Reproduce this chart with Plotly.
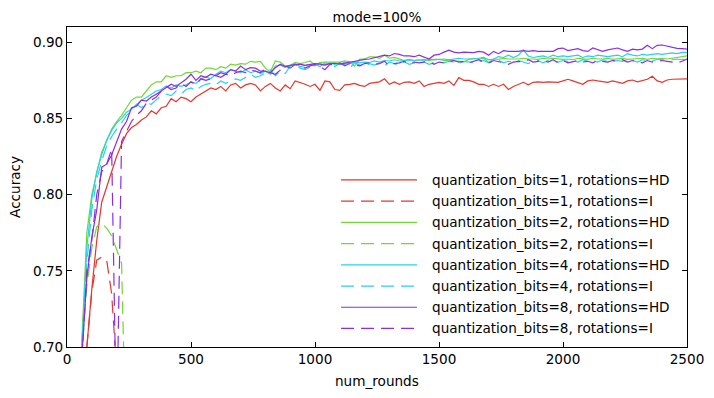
import plotly.graph_objects as go

# evaluation rounds (every 20 rounds)
ROUNDS = list(range(20, 2520, 20))

# quantization_bits=1, rotations=HD
acc_q1_hd = [
    0.30, 0.52, 0.66, 0.70, 0.738, 0.770, 0.795, 0.805, 0.815, 0.825,
    0.833, 0.840, 0.844, 0.846, 0.849, 0.851, 0.855, 0.853, 0.857, 0.858,
    0.863, 0.861, 0.864, 0.863, 0.861, 0.864, 0.866, 0.868, 0.870, 0.869,
    0.871, 0.868, 0.872, 0.873, 0.870, 0.872, 0.873, 0.872, 0.868, 0.871,
    0.873, 0.870, 0.868, 0.872, 0.8695, 0.8746, 0.8737, 0.8724, 0.871, 0.8724,
    0.8684, 0.8746, 0.874, 0.869, 0.8684, 0.872, 0.8724, 0.873, 0.8717, 0.871,
    0.873, 0.8737, 0.874, 0.876, 0.8724, 0.874, 0.8724, 0.8737, 0.874, 0.873,
    0.8746, 0.871, 0.8724, 0.873, 0.8737, 0.873, 0.8746, 0.8717, 0.8768, 0.875,
    0.875, 0.874, 0.8724, 0.8724, 0.871, 0.8724, 0.871, 0.8724, 0.869, 0.871,
    0.8724, 0.8737, 0.872, 0.8737, 0.874, 0.8737, 0.874, 0.874, 0.8737, 0.8746,
    0.8757, 0.8746, 0.8737, 0.8724, 0.8746, 0.8752, 0.8746, 0.874, 0.8737, 0.8746,
    0.8737, 0.873, 0.8746, 0.8752, 0.874, 0.8748, 0.8757, 0.8777, 0.8746, 0.8737,
    0.8752, 0.8757, 0.8757, 0.8757, 0.876,
]
# quantization_bits=1, rotations=I (diverges)
acc_q1_i = [0.28, 0.48, 0.62, 0.70, 0.736, 0.757, 0.759, 0.757, 0.735, 0.685, 0.40]

# quantization_bits=2, rotations=HD
acc_q2_hd = [
    0.35, 0.58, 0.705, 0.775, 0.800, 0.815, 0.828, 0.835, 0.843, 0.848,
    0.852, 0.857, 0.862, 0.864, 0.864, 0.868, 0.872, 0.874, 0.874, 0.878,
    0.877, 0.878, 0.878, 0.880, 0.880, 0.881, 0.880, 0.883, 0.883, 0.882,
    0.884, 0.883, 0.8856, 0.885, 0.886, 0.8856, 0.8875, 0.887, 0.8875, 0.883,
    0.8806, 0.8877, 0.887, 0.8844, 0.8848, 0.8867, 0.886, 0.8867, 0.8877, 0.885,
    0.8867, 0.887, 0.887, 0.8867, 0.887, 0.8877, 0.8872, 0.8844, 0.889, 0.889,
    0.8904, 0.8904, 0.8895, 0.8915, 0.8895, 0.890, 0.8888, 0.888, 0.8888, 0.888,
    0.8882, 0.8888, 0.888, 0.8888, 0.8888, 0.888, 0.8882, 0.8877, 0.8877, 0.887,
    0.8888, 0.8895, 0.889, 0.8895, 0.8867, 0.889, 0.8888, 0.8895, 0.889, 0.8888,
    0.889, 0.8895, 0.889, 0.889, 0.8888, 0.8895, 0.889, 0.8895, 0.889, 0.8888,
    0.889, 0.8885, 0.8895, 0.889, 0.8888, 0.8895, 0.889, 0.889, 0.8895, 0.8888,
    0.889, 0.8895, 0.8888, 0.889, 0.889, 0.8895, 0.8888, 0.8895, 0.889, 0.8895,
    0.889, 0.8895, 0.890, 0.8905, 0.891,
]
# quantization_bits=2, rotations=I (diverges)
acc_q2_i = [0.30, 0.52, 0.70, 0.74, 0.765, 0.779, 0.781, 0.778, 0.773, 0.764, 0.755, 0.62, 0.35]

# quantization_bits=4, rotations=HD
acc_q4_hd = [
    0.33, 0.56, 0.70, 0.765, 0.797, 0.815, 0.826, 0.836, 0.842, 0.847,
    0.850, 0.854, 0.856, 0.859, 0.862, 0.8637, 0.866, 0.868, 0.869, 0.8713,
    0.870, 0.872, 0.871, 0.872, 0.874, 0.873, 0.876, 0.8773, 0.876, 0.879,
    0.881, 0.880, 0.882, 0.881, 0.880, 0.882, 0.880, 0.881, 0.8795, 0.881,
    0.879, 0.8844, 0.885, 0.8835, 0.885, 0.886, 0.884, 0.885, 0.8855, 0.8845,
    0.886, 0.885, 0.8865, 0.8855, 0.886, 0.8865, 0.886, 0.887, 0.8865, 0.887,
    0.8867, 0.8877, 0.887, 0.888, 0.8877, 0.8885, 0.8877, 0.888, 0.8884, 0.888,
    0.8885, 0.8877, 0.889, 0.8884, 0.8888, 0.889, 0.8884, 0.889, 0.8895, 0.889,
    0.8888, 0.889, 0.8895, 0.890, 0.8884, 0.889, 0.8905, 0.890, 0.8915, 0.890,
    0.8915, 0.895, 0.891, 0.890, 0.8905, 0.891, 0.890, 0.8915, 0.8905, 0.891,
    0.8905, 0.891, 0.8915, 0.890, 0.891, 0.8905, 0.8915, 0.891, 0.8905, 0.891,
    0.8915, 0.8905, 0.8925, 0.8915, 0.891, 0.892, 0.8915, 0.892, 0.8925, 0.892,
    0.8925, 0.893, 0.8925, 0.8934, 0.8934,
]
# quantization_bits=4, rotations=I
acc_q4_i = [
    0.30, 0.53, 0.69, 0.755, 0.79, 0.81, 0.822, 0.832, 0.838, 0.843,
    0.847, 0.852, 0.855, 0.8593, 0.857, 0.860, 0.8593, 0.862, 0.865, 0.866,
    0.865, 0.868, 0.866, 0.869, 0.870, 0.868, 0.871, 0.8724, 0.873, 0.872,
    0.8746, 0.873, 0.8746, 0.876, 0.875, 0.877, 0.879, 0.877, 0.878, 0.880,
    0.882, 0.878, 0.881, 0.8795, 0.8845, 0.886, 0.883, 0.882, 0.884, 0.8855,
    0.884, 0.8865, 0.885, 0.884, 0.886, 0.8855, 0.883, 0.8865, 0.885, 0.8835,
    0.886, 0.885, 0.8865, 0.8845, 0.887, 0.886, 0.885, 0.887, 0.8855, 0.8865,
    0.886, 0.887, 0.8855, 0.8865, 0.887, 0.8865, 0.8875, 0.887, 0.886, 0.8875,
    0.887, 0.8865, 0.8875, 0.888, 0.8865, 0.8875, 0.888, 0.8865, 0.8875, 0.887,
    0.888, 0.887, 0.886, 0.8875, 0.888, 0.8865, 0.888, 0.8875, 0.887, 0.888,
    0.8875, 0.888, 0.887, 0.8885, 0.8875, 0.888, 0.887, 0.8885, 0.888, 0.8875,
    0.888, 0.8875, 0.8885, 0.888, 0.887, 0.8885, 0.888, 0.8875, 0.889, 0.8885,
    0.888, 0.8885, 0.889, 0.8885, 0.889,
]

# quantization_bits=8, rotations=HD
acc_q8_hd = [
    0.32, 0.55, 0.695, 0.745, 0.772, 0.790, 0.818, 0.820, 0.826, 0.835,
    0.843, 0.848, 0.857, 0.858, 0.862, 0.8614, 0.864, 0.8658, 0.868, 0.870,
    0.8724, 0.871, 0.8735, 0.8757, 0.879, 0.875, 0.878, 0.877, 0.879, 0.878,
    0.880, 0.879, 0.882, 0.881, 0.8844, 0.882, 0.8833, 0.883, 0.881, 0.881,
    0.880, 0.8833, 0.8856, 0.884, 0.8848, 0.885, 0.8856, 0.8848, 0.8856, 0.886,
    0.8856, 0.885, 0.886, 0.8862, 0.8856, 0.8865, 0.887, 0.8875, 0.8884, 0.8888,
    0.889, 0.890, 0.8905, 0.8915, 0.891, 0.8926, 0.892, 0.891, 0.891, 0.8905,
    0.8915, 0.8905, 0.889, 0.8915, 0.892, 0.8935, 0.8948, 0.8935, 0.893, 0.8935,
    0.8935, 0.8932, 0.894, 0.8935, 0.8915, 0.894, 0.8925, 0.8945, 0.894, 0.894,
    0.894, 0.8945, 0.894, 0.8945, 0.894, 0.894, 0.894, 0.894, 0.8958, 0.8962,
    0.8945, 0.895, 0.8958, 0.8945, 0.894, 0.8962, 0.895, 0.894, 0.895, 0.8958,
    0.8962, 0.895, 0.894, 0.8955, 0.895, 0.8955, 0.898, 0.8958, 0.898, 0.8982,
    0.8975, 0.8965, 0.896, 0.8958, 0.8955,
]
# quantization_bits=8, rotations=I
acc_q8_i = [
    0.31, 0.54, 0.69, 0.75, 0.77, 0.80, 0.815, 0.82, 0.83, 0.645,
    0.835, 0.842, 0.848, 0.852, 0.855, 0.860, 0.862, 0.864, 0.868, 0.871,
    0.869, 0.870, 0.873, 0.871, 0.874, 0.872, 0.876, 0.875, 0.876, 0.878,
    0.877, 0.879, 0.878, 0.880, 0.881, 0.880, 0.882, 0.881, 0.880, 0.8825,
    0.880, 0.879, 0.882, 0.8845, 0.883, 0.8855, 0.884, 0.883, 0.8845, 0.8855,
    0.884, 0.882, 0.8855, 0.885, 0.8865, 0.8845, 0.886, 0.8855, 0.8845, 0.886,
    0.8865, 0.8855, 0.886, 0.8875, 0.8845, 0.886, 0.8865, 0.8875, 0.886, 0.887,
    0.8865, 0.887, 0.8875, 0.8855, 0.887, 0.8865, 0.8875, 0.888, 0.887, 0.8875,
    0.8865, 0.8875, 0.8885, 0.887, 0.8865, 0.888, 0.8875, 0.8865, 0.8855, 0.887,
    0.8875, 0.887, 0.8885, 0.887, 0.8875, 0.888, 0.887, 0.8885, 0.8865, 0.888,
    0.8865, 0.8875, 0.888, 0.887, 0.8875, 0.8865, 0.888, 0.8875, 0.887, 0.888,
    0.8875, 0.8885, 0.887, 0.888, 0.8875, 0.8865, 0.888, 0.887, 0.8875, 0.888,
    0.8875, 0.887, 0.8865, 0.8875, 0.889,
]

X_TICKS = [0, 500, 1000, 1500, 2000, 2500]
Y_TICKS = [0.70, 0.75, 0.80, 0.85, 0.90]

RED, GREEN, CYAN, PURPLE = '#e8352c', '#70d932', '#27d2e8', '#8c2de6'
FONT = 'DejaVu Sans'
FS = 13.6

series = [
    ('quantization_bits=1, rotations=HD', acc_q1_hd, RED, 'solid'),
    ('quantization_bits=1, rotations=I', acc_q1_i, RED, '13px,7px'),
    ('quantization_bits=2, rotations=HD', acc_q2_hd, GREEN, 'solid'),
    ('quantization_bits=2, rotations=I', acc_q2_i, GREEN, '13px,7px'),
    ('quantization_bits=4, rotations=HD', acc_q4_hd, CYAN, 'solid'),
    ('quantization_bits=4, rotations=I', acc_q4_i, CYAN, '13px,7px'),
    ('quantization_bits=8, rotations=HD', acc_q8_hd, PURPLE, 'solid'),
    ('quantization_bits=8, rotations=I', acc_q8_i, PURPLE, '13px,7px'),
]

fig = go.Figure()
for name, vals, color, dash in series:
    fig.add_trace(go.Scatter(
        x=ROUNDS[:len(vals)], y=vals, mode='lines', name=name,
        line=dict(color=color, width=1.2, dash=dash), showlegend=False,
    ))

# legend drawn by hand so the line samples are as long as in the original
row0, row_step = 0.522, 0.0663
for i, (name, vals, color, dash) in enumerate(series):
    yy = row0 - i * row_step
    fig.add_shape(type='line', xref='paper', yref='paper',
                  x0=0.442, x1=0.5645, y0=yy, y1=yy,
                  line=dict(color=color, width=1.2, dash=dash))
    fig.add_annotation(text=name, xref='paper', yref='paper', x=0.585, y=yy,
                       xanchor='left', yanchor='middle', showarrow=False,
                       font=dict(size=FS, color='black', family=FONT))

# axis titles as annotations, so the margins stay fixed
fig.add_annotation(text='num_rounds', xref='paper', yref='paper', x=0.5, y=-0.106,
                   xanchor='center', yanchor='middle', showarrow=False,
                   font=dict(size=FS, color='black', family=FONT))
fig.add_annotation(text='Accuracy', xref='paper', yref='paper', x=-0.084, y=0.5,
                   xanchor='center', yanchor='middle', textangle=-90, showarrow=False,
                   font=dict(size=FS, color='black', family=FONT))

axis_common = dict(
    showline=True, linecolor='black', linewidth=1, mirror='ticks',
    ticks='inside', ticklen=5, tickcolor='black', showgrid=False, zeroline=False,
    automargin=False, tickfont=dict(size=FS, color='black', family=FONT),
)
fig.update_xaxes(range=[0, 2500], tickvals=X_TICKS, **axis_common)
fig.update_yaxes(range=[0.70, 0.91], tickvals=Y_TICKS, tickformat='.2f', **axis_common)

# the page adds an 8px body margin, so the figure is 8px smaller and margins shifted
fig.update_layout(
    width=706, height=390,
    margin=dict(l=59, r=27, t=19, b=51),
    paper_bgcolor='white', plot_bgcolor='white',
    font=dict(family=FONT, color='black'),
    title=dict(text='mode=100%', x=0.5, xref='paper', y=1 - 9 / 390, yref='container',
               xanchor='center', yanchor='middle', font=dict(size=FS, color='black', family=FONT)),
)

fig.write_html("out.html")
